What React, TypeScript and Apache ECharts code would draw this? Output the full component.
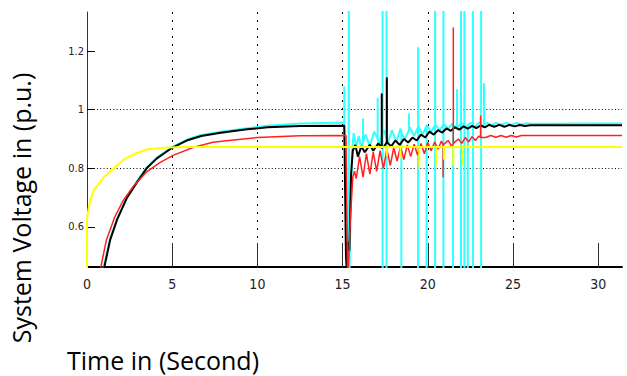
import React, { useEffect, useRef } from "react";
import * as echarts from "echarts";

// Tick labels
const xTicks = [0, 5, 10, 15, 20, 25, 30];
const yTicks = [0.6, 0.8, 1, 1.2];
const xMax = 31.4;
const yMin = 0.4636;
const yMax = 1.333;

// Yellow (with short dips after the fault)
const yellowData: [number, number][] = [
  [0, 0.44], [0.005, 0.634], [0.18, 0.69], [0.4, 0.725], [0.98, 0.77], [1.57, 0.8],
  [2.16, 0.83], [2.75, 0.848], [3.5, 0.864], [4.5, 0.87], [5.7, 0.873],
  [17.6, 0.873], [17.6, 0.84], [17.6, 0.873],
  [18.4, 0.873], [18.4, 0.835], [18.4, 0.873],
  [19.5, 0.873], [19.5, 0.805], [19.5, 0.873],
  [20.5, 0.873], [20.5, 0.81], [20.5, 0.873],
  [20.95, 0.873], [20.95, 0.83], [20.95, 0.873],
  [21.5, 0.873], [21.5, 0.81], [21.5, 0.873],
  [22.05, 0.873], [22.05, 0.81], [22.05, 0.873],
  [31.4, 0.873],
];

// Red
const redData: [number, number][] = [
  [0.73, 0.44], [1.14, 0.556], [1.63, 0.634], [2.12, 0.69], [2.7, 0.737], [3.5, 0.788],
  [4.3, 0.82], [5.08, 0.845], [6.26, 0.872], [7.4, 0.889], [8.6, 0.897], [10, 0.905],
  [12.5, 0.911], [15.2, 0.912], [15.3, 0.4], [15.45, 0.62], [15.6, 0.77],
  [15.7, 0.79], [15.8, 0.765], [16.0, 0.84], [16.2, 0.77], [16.4, 0.85], [16.6, 0.78],
  [16.8, 0.855], [17.0, 0.79], [17.2, 0.86], [17.4, 0.8], [17.6, 0.865], [17.8, 0.81],
  [18.0, 0.87], [18.2, 0.825], [18.4, 0.875], [18.6, 0.83], [18.8, 0.88], [19.0, 0.84],
  [19.2, 0.882], [19.4, 0.845], [19.6, 0.885], [19.8, 0.85], [20.0, 0.888], [20.2, 0.86],
  [20.4, 0.89], [20.6, 0.865], [20.8, 0.893],
  [20.9, 0.88], [20.9, 0.77], [20.9, 0.88],
  [21.2, 0.895], [21.4, 0.875],
  [21.5, 0.885], [21.5, 1.28], [21.5, 0.885],
  [21.8, 0.9], [22.0, 0.885], [22.2, 0.905],
  [22.4, 0.89], [22.6, 0.908], [22.8, 0.895], [23.0, 0.91],
  [23.1, 0.905], [23.1, 0.98], [23.1, 0.905],
  [23.4, 0.905], [23.7, 0.912], [24.0, 0.906], [24.3, 0.912], [24.6, 0.906], [24.9, 0.912],
  [25.2, 0.907], [25.5, 0.912], [31.4, 0.912],
];

// Black
const blackData: [number, number][] = [
  [0.93, 0.44], [1.36, 0.556], [1.76, 0.624], [2.35, 0.7], [2.94, 0.753], [3.5, 0.8],
  [4.1, 0.834], [5, 0.87], [5.9, 0.896], [6.7, 0.91], [7.85, 0.921], [9.4, 0.933],
  [10.6, 0.94], [12.5, 0.944], [15.1, 0.945], [15.2, 0.5], [15.25, 0.44], [15.3, 0.55],
  [15.4, 0.52], [15.5, 0.78], [15.6, 0.86], [15.75, 0.88], [15.9, 0.84], [16.1, 0.875],
  [16.3, 0.855], [16.6, 0.88], [16.8, 0.86], [17.1, 0.885],
  [17.3, 0.87], [17.3, 1.055], [17.3, 0.87],
  [17.45, 0.875],
  [17.6, 0.89], [17.6, 1.11], [17.6, 0.89],
  [17.85, 0.875], [18.1, 0.895], [18.35, 0.88], [18.6, 0.9],
  [18.85, 0.888], [19.1, 0.905], [19.35, 0.895], [19.6, 0.915], [19.85, 0.905], [20.1, 0.925],
  [20.35, 0.915], [20.6, 0.93], [20.85, 0.922], [21.1, 0.936], [21.35, 0.928], [21.6, 0.94],
  [21.85, 0.932], [22.1, 0.943], [22.35, 0.935], [22.6, 0.945], [22.85, 0.937], [23.1, 0.946],
  [23.35, 0.94], [23.6, 0.948], [23.9, 0.942], [24.2, 0.948], [24.5, 0.942], [24.8, 0.948],
  [25.1, 0.943], [25.4, 0.948], [25.7, 0.944], [26.0, 0.947], [31.4, 0.947],
];

// Cyan (with the numerical spikes after the fault)
const cyanData: [number, number][] = [
  [0.9, 0.44], [1.33, 0.556], [1.74, 0.624], [2.33, 0.7], [2.92, 0.755], [3.5, 0.802],
  [4.1, 0.837], [5, 0.873], [5.9, 0.899], [6.7, 0.914], [7.85, 0.925], [9.4, 0.937],
  [10.6, 0.945], [12.5, 0.953], [15.1, 0.956],
  [15.1, 1.08], [15.1, 0.956],
  [15.2, 0.7], [15.3, 0.3], [15.35, 0.55],
  [15.37, 1.6], [15.37, 0.3],
  [15.45, 0.6], [15.55, 0.85], [15.65, 0.92],
  [15.8, 0.875], [15.95, 0.91], [16.1, 0.87],
  [16.2, 0.89], [16.2, 0.97], [16.2, 0.89],
  [16.35, 0.915], [16.6, 0.875], [16.85, 0.925],
  [17.06, 0.9], [17.06, 1.04], [17.06, 0.9],
  [17.15, 0.88],
  [17.35, 0.92], [17.35, 1.6], [17.35, 0.3], [17.35, 0.92],
  [17.45, 0.93],
  [17.58, 0.9], [17.58, 1.6], [17.58, 0.3], [17.58, 0.9],
  [17.65, 0.885], [17.9, 0.93], [18.15, 0.89], [18.4, 0.935],
  [18.45, 0.93], [18.45, 0.3], [18.45, 0.92],
  [18.65, 0.9],
  [18.9, 0.93], [18.9, 0.987], [18.9, 0.935],
  [18.95, 0.94], [19.2, 0.91],
  [19.43, 0.94], [19.43, 1.213], [19.43, 0.3], [19.43, 0.945],
  [19.7, 0.915],
  [19.93, 0.945], [19.93, 0.3], [19.93, 0.948],
  [20.2, 0.925],
  [20.43, 0.948], [20.43, 1.6], [20.43, 0.3], [20.43, 0.95],
  [20.7, 0.93],
  [20.92, 0.95], [20.92, 1.6], [20.92, 0.3], [20.92, 0.952],
  [21.2, 0.935], [21.45, 0.953],
  [21.48, 0.95], [21.48, 0.3], [21.48, 0.945],
  [21.72, 0.94], [21.72, 1.07], [21.72, 0.938],
  [21.95, 0.953], [21.95, 1.6], [21.95, 0.3], [21.95, 0.955],
  [22.15, 0.948], [22.15, 1.6], [22.15, 0.3], [22.15, 0.945],
  [22.25, 0.94],
  [22.35, 0.945], [22.35, 0.3], [22.35, 0.947],
  [22.5, 0.955],
  [22.65, 0.95], [22.65, 1.6], [22.65, 0.3], [22.65, 0.948],
  [22.75, 0.94], [23.0, 0.956],
  [23.13, 0.95], [23.13, 1.6], [23.13, 0.3], [23.13, 0.948],
  [23.25, 0.945],
  [23.3, 0.947], [23.3, 1.09], [23.3, 0.95],
  [23.5, 0.955], [23.75, 0.947], [24.0, 0.955], [24.3, 0.948],
  [24.6, 0.955], [24.9, 0.948], [25.2, 0.955], [25.5, 0.949], [25.8, 0.954], [26.0, 0.952],
  [31.4, 0.953],
];

const tickFont = '"Liberation Sans Narrow", "DejaVu Sans Condensed", "Arial Narrow", sans-serif';
const nameFont = '"Open Sans", "Noto Sans", sans-serif';

export default function App() {
  const ref = useRef<HTMLDivElement>(null);
  useEffect(() => {
    if (!ref.current) return;
    const chart = echarts.init(ref.current, undefined, { renderer: "svg" });
    const lineSeries = (name: string, data: [number, number][], color: string, width: number) => ({
      name,
      type: "line",
      data,
      showSymbol: false,
      symbol: "none",
      clip: true,
      silent: true,
      lineStyle: { color, width },
    });
    chart.setOption({
      animation: false,
      backgroundColor: "#ffffff",
      grid: { left: 87, top: 12, right: 5, bottom: 109 },
      xAxis: {
        type: "value",
        min: 0,
        max: xMax,
        interval: 5,
        axisLine: { show: true, onZero: false, lineStyle: { color: "#000", width: 2 } },
        axisTick: { show: true, inside: true, length: 24, customValues: xTicks, lineStyle: { color: "#333", width: 1 } },
        axisLabel: {
          customValues: xTicks,
          fontFamily: tickFont,
          fontSize: 14,
          color: "#222",
          margin: 10,
          formatter: (v: number) => String(v),
        },
        splitLine: {
          show: true,
          showMinLine: false,
          showMaxLine: false,
          lineStyle: { color: "#000", width: 1, type: [2, 6] },
        },
      },
      yAxis: {
        type: "value",
        min: yMin,
        max: yMax,
        axisLine: { show: true, onZero: false, lineStyle: { color: "#333", width: 1 } },
        axisTick: { show: true, inside: true, length: 8, customValues: yTicks, lineStyle: { color: "#000", width: 1 } },
        axisLabel: {
          customValues: yTicks,
          fontFamily: tickFont,
          fontSize: 11,
          color: "#222",
          margin: 3,
          formatter: (v: number) => String(v),
        },
        splitLine: {
          show: true,
          showMinLine: false,
          showMaxLine: false,
          lineStyle: { color: "#000", width: 1, type: [1, 2.3] },
        },
      },
      graphic: [
        {
          type: "text",
          x: 21,
          y: 208,
          rotation: Math.PI / 2,
          style: {
            text: "System Voltage in (p.u.)",
            x: 0,
            y: 0,
            fill: "#000",
            font: `25px ${nameFont}`,
            lineHeight: 26,
            align: "center",
            verticalAlign: "middle",
          },
        },
        {
          type: "text",
          x: 67,
          y: 360,
          style: {
            text: "Time in (Second)",
            x: 0,
            y: 0,
            fill: "#000",
            font: `25px ${nameFont}`,
            lineHeight: 26,
            align: "left",
            verticalAlign: "middle",
          },
        },
      ],
      series: [
        lineSeries("cyan", cyanData, "#33ffff", 2),
        lineSeries("black", blackData, "#000000", 2),
        lineSeries("red", redData, "#ff2020", 1.5),
        lineSeries("yellow", yellowData, "#ffff00", 2),
      ],
    });
    return () => chart.dispose();
  }, []);
  return (
    <div
      ref={ref}
      style={{ position: "fixed", left: 0, top: 0, width: 627, height: 376, background: "#fff" }}
    />
  );
}
